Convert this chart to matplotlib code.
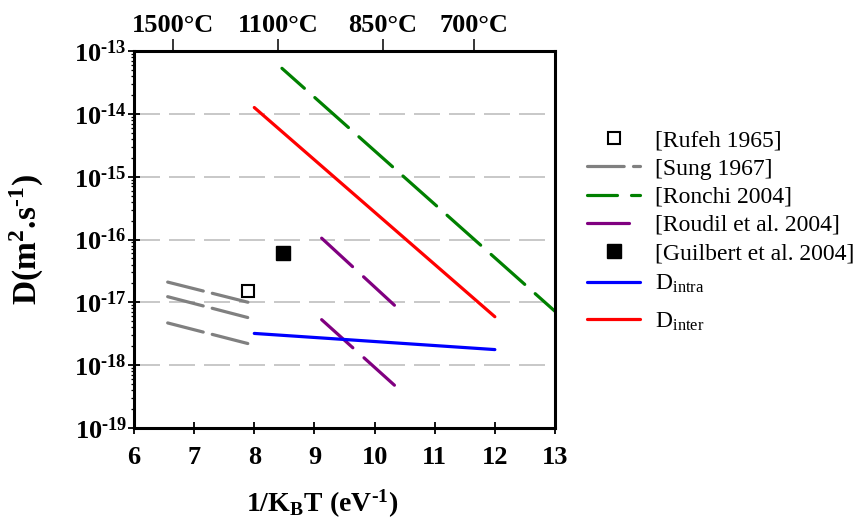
import numpy as np
import matplotlib
matplotlib.use('Agg')
import matplotlib.pyplot as plt
from matplotlib import font_manager, ft2font
from matplotlib.ticker import LogLocator, NullFormatter, FuncFormatter

plt.rcParams['font.family'] = ['Liberation Serif', 'DejaVu Serif']
plt.rcParams['mathtext.fontset'] = 'stix'
plt.rcParams['lines.scale_dashes'] = False

# --- data ------------------------------------------------------
rufeh_x = [7.90]
rufeh_y = [1.5e-17]

sung_x = [6.56, 7.90]
sung_y1 = [2.1e-17, 1.0e-17]
sung_y2 = [1.23e-17, 5.7e-18]
sung_y3 = [4.7e-18, 2.2e-18]

ronchi_x = [8.46, 13.0]
ronchi_y = [5.3e-14, 7.2e-18]

roudil_x = [9.12, 10.33]
roudil_y1 = [1.05e-16, 9.0e-18]
roudil_y2 = [5.3e-18, 4.8e-19]

guilbert_x = [8.47]
guilbert_y = [6.0e-17]

intra_x = [8.0, 12.0]
intra_y = [3.2e-18, 1.77e-18]

inter_x = [8.0, 12.0]
inter_y = [1.26e-14, 5.9e-18]

top_pos = [6.65, 8.40, 10.14, 11.66]
top_labels = ['1500°C', '1100°C', '850°C', '700°C']

# short hyphen for the exponents (mathtext turns '-' into a long minus)
fpath = font_manager.findfont(font_manager.FontProperties(family='Liberation Serif',
                                                          weight='bold'))
ffile = ft2font.FT2Font(fpath)
hy = '\u2212'
for code in (0x2010, 0x2011, 0x00AD):
    if ffile.get_char_index(code):
        hy = chr(code)
        break

def sci(v, pos):
    e = int(round(np.log10(v)))
    sign = hy if e < 0 else ''
    return r'$\mathdefault{10^{%s%d}}$' % (sign, abs(e))

# --- figure ------------------------------------------------------
fig = plt.figure(figsize=(8.55, 5.26), dpi=100)
ax = fig.add_axes([134/855, 1-428/526, 421/855, 377/526])

px = 0.72  # points per pixel at 100 dpi
lw = 2.3

h_rufeh, = ax.plot(rufeh_x, rufeh_y, ls='none', marker='s', ms=9, mfc='white',
                   mec='black', mew=1.5, zorder=5)

for yy in [sung_y1, sung_y2, sung_y3]:
    h_sung, = ax.plot(sung_x, yy, color='#808080', lw=lw, ls=(0, (36.7*px, 9.3*px)),
                      dash_capstyle='round')

h_ronchi, = ax.plot(ronchi_x, ronchi_y, color='#008000', lw=lw,
                    ls=(15*px, (45*px, 14*px)), dash_capstyle='round')

for yy in [roudil_y1, roudil_y2]:
    h_roudil, = ax.plot(roudil_x, yy, color='#800080', lw=lw, ls=(0, (42*px, 15*px)),
                        dash_capstyle='round')

h_guil, = ax.plot(guilbert_x, guilbert_y, ls='none', marker='s', ms=10, mfc='black',
                  mec='black', zorder=5)

h_intra, = ax.plot(intra_x, intra_y, color='#0000ff', lw=lw, solid_capstyle='round')
h_inter, = ax.plot(inter_x, inter_y, color='#ff0000', lw=lw, solid_capstyle='round')

ax.set_xlim(6, 13)
ax.set_yscale('log')
ax.set_ylim(1e-19, 1e-13)
ax.set_xticks(range(6, 14))
ax.yaxis.set_major_locator(LogLocator(base=10, numticks=10))
ax.yaxis.set_major_formatter(FuncFormatter(sci))
ax.yaxis.set_minor_locator(LogLocator(base=10, subs=np.arange(2, 10), numticks=10))
ax.yaxis.set_minor_formatter(NullFormatter())

ax.yaxis.grid(True, which='major', color='#c8c8c8', lw=1.4,
              ls=(0, (26*px, 9*px)), zorder=0)
ax.set_axisbelow(True)

for s in ax.spines.values():
    s.set_linewidth(2.2)

ax.tick_params(axis='both', which='major', direction='inout', length=8, width=1.3,
               labelsize=19)
ax.tick_params(axis='y', which='major', pad=1)
ax.tick_params(axis='x', which='major', pad=9)
ax.tick_params(axis='y', which='minor', direction='out', length=2.5, width=0.9)
for t in ax.get_xticklabels() + ax.get_yticklabels():
    t.set_fontweight('bold')

ax.set_ylabel(r'D(m$^{\mathdefault{2}}$.s$^{\mathdefault{%s1}}$)' % hy, fontsize=24,
              fontweight='bold')
ax.yaxis.set_label_coords((45-134)/421, 0.5)
ax.set_xlabel(r'1/K$_{\mathdefault{B}}$T (eV$^{\mathdefault{%s1}}$)' % hy, fontsize=20,
              fontweight='bold')
ax.xaxis.set_label_coords((322-134)/421, (428-487)/377)

ax2 = ax.twiny()
ax2.set_xlim(6, 13)
ax2.set_xticks(top_pos)
ax2.set_xticklabels(top_labels, fontsize=19, fontweight='bold')
ax2.tick_params(axis='x', direction='out', length=9, width=1.1, pad=1)
for s in ax2.spines.values():
    s.set_visible(False)

leg_kw = dict(loc='upper left', bbox_transform=fig.transFigure, frameon=False,
              fontsize=17, borderpad=0, borderaxespad=0, handlelength=2.25,
              handletextpad=0.64)
leg1 = ax.legend([h_rufeh, h_sung, h_ronchi, h_roudil, h_guil],
                 ['[Rufeh 1965]', '[Sung 1967]', '[Ronchi 2004]',
                  '[Roudil et al. 2004]', '[Guilbert et al. 2004]'],
                 bbox_to_anchor=(587/855, 1-130/526), labelspacing=0.28, **leg_kw)
ax.add_artist(leg1)
ax.legend([h_intra, h_inter],
          [r'D$_{\mathdefault{intra}}$', r'D$_{\mathdefault{inter}}$'],
          bbox_to_anchor=(587/855, 1-273/526), labelspacing=0.65, **leg_kw)

fig.savefig('out.png', dpi=100)
